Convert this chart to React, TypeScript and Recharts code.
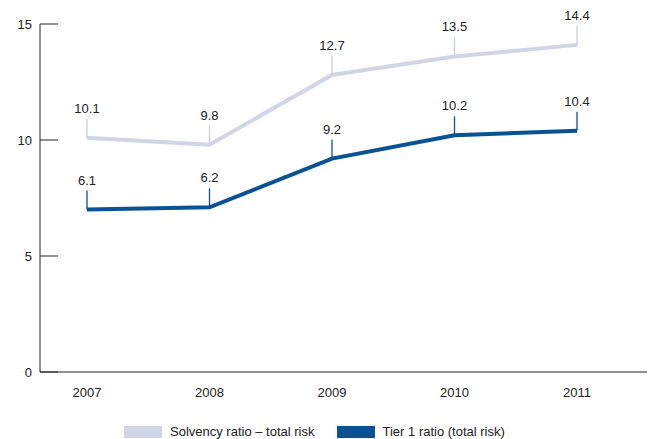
import React from "react";
import { LineChart, Line, XAxis, YAxis, LabelList } from "recharts";

const years = ["2007", "2008", "2009", "2010", "2011"];
const solvency = [10.1, 9.8, 12.8, 13.6, 14.1];
const tier1 = [7.0, 7.1, 9.2, 10.2, 10.4];
const solvencyLabels = ["10.1", "9.8", "12.7", "13.5", "14.4"];
const tier1Labels = ["6.1", "6.2", "9.2", "10.2", "10.4"];
const yTicks = [0, 5, 10, 15];

const data = years.map((year, i) => ({
  year,
  solvency: solvency[i],
  tier1: tier1[i],
  solvencyLabel: solvencyLabels[i],
  tier1Label: tier1Labels[i],
}));

const LIGHT = "#d0d5e7";
const DARK = "#0a5293";
const FONT = "'Liberation Sans', Arial, sans-serif";

const leader = (color: string) => (props: any) => {
  const { x, y, value } = props;
  return (
    <g>
      <line x1={x} x2={x} y1={y} y2={y - 19} stroke={color} strokeWidth={1.3} />
      <text x={x} y={y - 25} textAnchor="middle" fontSize={13} fill="#222" fontFamily={FONT}>
        {value}
      </text>
    </g>
  );
};

const YTick = (props: any) => {
  const { x, y, payload } = props;
  return (
    <g>
      <line x1={x + 8} x2={x + 26} y1={y} y2={y} stroke="#222" />
      <text x={x} y={y} dy="0.35em" textAnchor="end" fontSize={13} fill="#222" fontFamily={FONT}>
        {payload.value}
      </text>
    </g>
  );
};

const legendItems = [
  { name: "Solvency ratio – total risk", color: LIGHT },
  { name: "Tier 1 ratio (total risk)", color: DARK },
];

const LegendBox = () => (
  <div
    style={{
      position: "absolute",
      left: 124,
      top: 425,
      display: "flex",
      alignItems: "center",
      fontFamily: FONT,
      fontSize: 13,
      lineHeight: "13px",
      color: "#222",
      whiteSpace: "nowrap",
    }}
  >
    {legendItems.map((it) => (
      <div key={it.name} style={{ display: "flex", alignItems: "center", marginRight: 22 }}>
        <div style={{ width: 38, height: 12, background: it.color, marginRight: 8 }} />
        <span>{it.name}</span>
      </div>
    ))}
  </div>
);

export default function App() {
  return (
    <div style={{ position: "absolute", left: 0, top: 0, width: 654, height: 439 }}>
      <LineChart width={654} height={439} data={data} margin={{ top: 24, right: 7, bottom: 37, left: 0 }}>
        <XAxis
          dataKey="year"
          height={30}
          padding={{ left: 47, right: 70 }}
          tickLine={false}
          tickSize={0}
          tickMargin={16}
          axisLine={{ stroke: "#222" }}
          tick={{ fontSize: 13, fill: "#222", fontFamily: FONT }}
        />
        <YAxis
          width={40}
          domain={[0, 15]}
          ticks={yTicks}
          tickLine={false}
          tickSize={0}
          tickMargin={8}
          axisLine={{ stroke: "#222" }}
          tick={<YTick />}
        />
        <Line dataKey="solvency" stroke={LIGHT} strokeWidth={4} dot={false} isAnimationActive={false}>
          <LabelList dataKey="solvencyLabel" content={leader("#c8cde0")} />
        </Line>
        <Line dataKey="tier1" stroke={DARK} strokeWidth={4} dot={false} isAnimationActive={false}>
          <LabelList dataKey="tier1Label" content={leader(DARK)} />
        </Line>
      </LineChart>
      <LegendBox />
    </div>
  );
}
